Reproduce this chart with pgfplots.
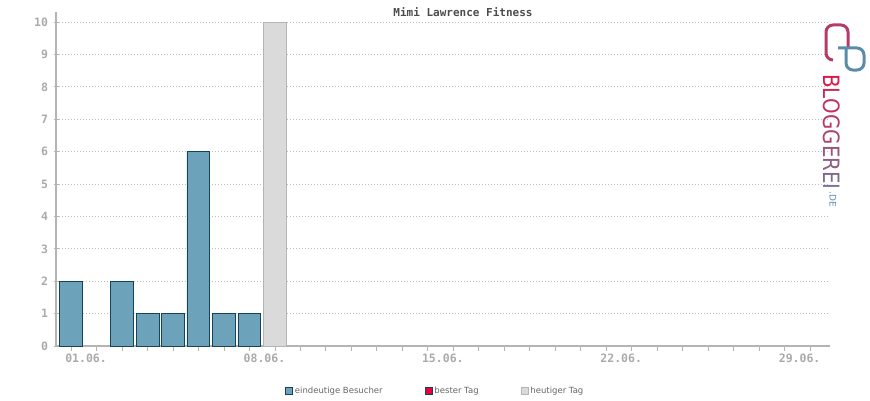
\documentclass[border=0pt]{standalone}
\usepackage{pgfplots}
\pgfplotsset{compat=1.18}
\usepackage{fontspec}
\setmainfont{DejaVu Sans}
\newfontfamily\monob{DejaVu Sans Mono}[BoldFont={DejaVu Sans Mono Bold}]

\definecolor{visfill}{RGB}{108,163,187}
\definecolor{visdraw}{RGB}{22,67,87}
\definecolor{todayfill}{RGB}{218,218,218}
\definecolor{todaydraw}{RGB}{180,180,180}
\definecolor{bestred}{RGB}{232,0,60}
\definecolor{axisgray}{RGB}{180,180,180}
\definecolor{ticktext}{RGB}{170,170,170}
\definecolor{gridgray}{RGB}{190,190,190}
\definecolor{logored}{RGB}{220,25,75}
\definecolor{logoblue}{RGB}{90,140,170}

\begin{document}
\begin{tikzpicture}[x=1pt,y=1pt]
\path[use as bounding box] (0,0) rectangle (870,400);

\begin{axis}[
  at={(56pt,54pt)}, anchor=south west,
  scale only axis, width=774pt, height=334pt,
  xmin=0.41, xmax=30.78, ymin=0, ymax=10.31,
  axis x line=bottom, axis y line=left,
  axis line style={-, draw=axisgray, line width=1.6pt},
  tick align=center, major tick length=5pt,
  tick style={draw=axisgray, line width=0.8pt},
  xtick={1,...,30},
  xticklabels={01.06.,,,,,,,08.06.,,,,,,,15.06.,,,,,,,22.06.,,,,,,,29.06.,},
  xticklabel style={xshift=15pt, yshift=1pt},
  ytick={0,1,...,10},
  yticklabel style={xshift=-2pt},
  ticklabel style={font=\monob\bfseries\fontsize{11.5}{12}\selectfont, text=ticktext},
  /pgf/number format/assume math mode=true,
  ymajorgrids, grid style={dash pattern=on 1pt off 2pt, draw=gridgray, line width=0.7pt},
  ybar, bar width=0.9, bar shift=0pt,
  legend image code/.code={\draw[#1, line width=0.8pt] (0pt,-3.5pt) rectangle (7pt,3.5pt);},
  legend style={at={(0.49,-0.135)}, anchor=center, draw=none, fill=none,
    legend columns=3, font=\fontsize{8.5}{9}\selectfont, text=black!60,
    /tikz/every even column/.append style={column sep=40pt}},
]
\addplot[fill=visfill, draw=visdraw, line width=0.9pt] coordinates {
  (1,2) (3,2) (4,1) (5,1) (6,6) (7,1) (8,1)};
\addlegendentry{eindeutige Besucher}
\addlegendimage{fill=bestred, draw=visdraw}
\addlegendentry{bester Tag}
\addplot[fill=todayfill, draw=todaydraw, line width=0.9pt] coordinates {(9,10)};
\addlegendentry{heutiger Tag}
\end{axis}

% title
\node[text=black!70, font=\monob\bfseries\fontsize{11}{12}\selectfont] at (463,388) {Mimi Lawrence Fitness};

% logo
\draw[logored!70!logoblue, line width=3pt, rounded corners=7pt] (833,340) -- (826,340) -- (826,375) -- (848,375) -- (848,352);
\draw[logoblue, line width=3pt, rounded corners=7pt] (838,352) -- (864,352) -- (864,330) -- (846,330) -- (846,352);
\node[rotate=-90, inner sep=0pt, font=\fontsize{18}{18}\selectfont] at (831.5,268)
  {\scalebox{1.1}[1.25]{\textcolor{logored}{B}\textcolor{logored!90!logoblue}{L}\textcolor{logored!80!logoblue}{O}\textcolor{logored!70!logoblue}{G}\textcolor{logored!60!logoblue}{G}\textcolor{logored!50!logoblue}{E}\textcolor{logored!40!logoblue}{R}\textcolor{logored!30!logoblue}{E}\textcolor{logored!20!logoblue}{I}}};
\node[rotate=-90, inner sep=0pt, font=\fontsize{9}{9}\selectfont, text=logoblue] at (833,201) {.DE};
\end{tikzpicture}
\end{document}
